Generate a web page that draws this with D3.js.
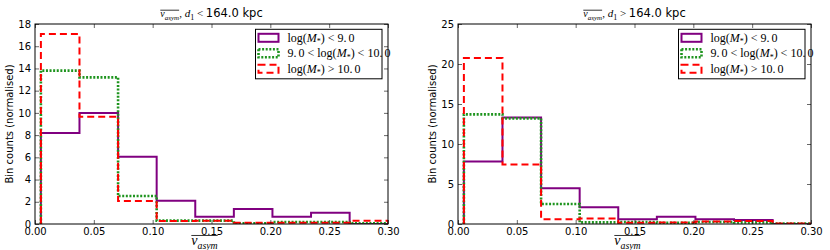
<!DOCTYPE html>
<html><head><meta charset="utf-8">
<script src="https://cdn.jsdelivr.net/npm/d3@7"></script>
<style>
body{margin:0;background:#fff;}
</style></head>
<body><svg id="c" width="830" height="250" font-family="DejaVu Sans, sans-serif"></svg>
<script>
// Bin edges (v_asym)
const binEdges = [0.005, 0.0378, 0.0706, 0.1034, 0.1362, 0.169, 0.2018, 0.2346, 0.2674, 0.3002];
const seriesNames = ["low", "mid", "high"];
// Left panel: d1 < 164.0 kpc
const leftLow  = [8.2, 10.0, 6.06, 2.1, 0.66, 1.35, 0.66, 1.02, 0.0];
const leftMid  = [13.8, 13.2, 2.52, 0.3, 0.3, 0.06, 0.18, 0.18, 0.06];
const leftHigh = [17.1, 9.66, 2.07, 0.27, 0.3, 0.12, 0.12, 0.12, 0.3];
// Right panel: d1 > 164.0 kpc
const rightLow  = [7.8, 13.3, 4.46, 2.1, 0.58, 0.92, 0.58, 0.5, 0.0];
const rightMid  = [13.7, 13.2, 2.5, 0.2, 0.25, 0.15, 0.25, 0.2, 0.05];
const rightHigh = [20.75, 7.45, 0.58, 0.7, 0.15, 0.2, 0.3, 0.37, 0.05];
// Axis ticks
const xTicks = [0.00, 0.05, 0.10, 0.15, 0.20, 0.25, 0.30];
const leftYTicks = [0, 2, 4, 6, 8, 10, 12, 14, 16, 18];
const rightYTicks = [0, 5, 10, 15, 20, 25];
const legendLabels = [["9.0", "<"], ["10.0", "mid"], ["10.0", ">"]];

const styles = {
  low:  {color: "#800080", width: 2, dash: null},
  mid:  {color: "#1e941e", width: 2.6, dash: "2,1.6"},
  high: {color: "#ff0000", width: 2, dash: "7,4"}
};

const svg = d3.select("#c");
const serif = "Liberation Serif, DejaVu Serif, serif";
const sans = "DejaVu Sans, sans-serif";

function vasym(g, x, y, size, anchor) {
  const t = g.append("text").attr("x", x).attr("y", y)
    .attr("font-family", serif).attr("font-style", "italic")
    .attr("font-size", size).attr("text-anchor", anchor || "start");
  t.append("tspan").text("v");
  t.append("tspan").attr("font-size", size * 0.7).attr("dy", size * 0.25).text("asym");
  const bb = t.node().getBBox();
  g.append("line").attr("x1", bb.x).attr("x2", bb.x + bb.width)
    .attr("y1", y - size * 0.68).attr("y2", y - size * 0.68)
    .attr("stroke", "#000").attr("stroke-width", 0.8);
  return bb;
}

function panel(opt) {
  const x = d3.scaleLinear().domain([0, 0.3]).range([opt.x0, opt.x1]);
  const y = d3.scaleLinear().domain([0, opt.ymax]).range([224, 24]);
  const g = svg.append("g");
  const clipId = "clip" + opt.id;
  svg.append("clipPath").attr("id", clipId).append("rect")
    .attr("x", opt.x0).attr("y", 24).attr("width", opt.x1 - opt.x0).attr("height", 200);

  const data = {low: opt.low, mid: opt.mid, high: opt.high};
  seriesNames.forEach(name => {
    const vals = data[name];
    const pts = [[binEdges[0], 0]];
    vals.forEach((v, i) => { pts.push([binEdges[i], v]); pts.push([binEdges[i + 1], v]); });
    pts.push([binEdges[binEdges.length - 1], 0]);
    const line = d3.line().x(d => x(d[0])).y(d => y(d[1]));
    const s = styles[name];
    g.append("path").attr("d", line(pts)).attr("fill", "none")
      .attr("stroke", s.color).attr("stroke-width", s.width)
      .attr("stroke-dasharray", s.dash).attr("clip-path", `url(#${clipId})`);
  });

  const ax = g.append("g").attr("transform", "translate(0,224)")
    .call(d3.axisBottom(x).tickValues(xTicks).tickFormat(d3.format(".2f")).tickSizeInner(-4).tickSizeOuter(0).tickPadding(4));
  const axT = g.append("g").attr("transform", "translate(0,24)")
    .call(d3.axisTop(x).tickValues(xTicks).tickFormat("").tickSizeInner(-4).tickSizeOuter(0));
  const ay = g.append("g").attr("transform", `translate(${opt.x0},0)`)
    .call(d3.axisLeft(y).tickValues(opt.yTicks).tickSizeInner(-4).tickSizeOuter(0).tickPadding(4));
  const ayR = g.append("g").attr("transform", `translate(${opt.x1},0)`)
    .call(d3.axisRight(y).tickValues(opt.yTicks).tickFormat("").tickSizeInner(-4).tickSizeOuter(0));
  [ax, axT, ay, ayR].forEach(a => {
    a.select(".domain").remove();
    a.attr("font-family", sans).attr("font-size", 10);
    a.selectAll("text").attr("fill", "#000");
    a.selectAll("line").attr("stroke", "#000").attr("stroke-width", 0.6);
  });
  g.append("rect").attr("x", opt.x0).attr("y", 24).attr("width", opt.x1 - opt.x0).attr("height", 200)
    .attr("fill", "none").attr("stroke", "#000").attr("stroke-width", 1);

  g.append("text").attr("transform", `translate(${opt.x0 - 22},124) rotate(-90)`)
    .attr("text-anchor", "middle").attr("font-family", sans).attr("font-size", 10).text("Bin counts (normalised)");

  vasym(g, (opt.x0 + opt.x1) / 2 - 7, 245, 14, "middle");

  // title
  const cx = (opt.x0 + opt.x1) / 2;
  const tg = g.append("g");
  const vb = vasym(tg, 0, 17, 10, "start");
  const t2 = tg.append("text").attr("x", vb.x + vb.width).attr("y", 17).attr("font-size", 11);
  t2.append("tspan").attr("font-family", serif).text(", ");
  t2.append("tspan").attr("font-family", serif).attr("font-style", "italic").text("d");
  t2.append("tspan").attr("font-family", serif).attr("font-size", 8).attr("dy", 2.5).text("1");
  t2.append("tspan").attr("font-family", serif).attr("dy", -2.5).text(opt.cmp === "<" ? " < " : " > ");
  t2.append("tspan").attr("font-family", sans).attr("font-size", 11.5).text("164.0 kpc");
  const tb = tg.node().getBBox();
  tg.attr("transform", `translate(${cx - tb.width / 2 - tb.x},0)`);

  // legend
  const lx = opt.x1 - 132.5, ly = 29.3;
  const lg = g.append("g");
  lg.append("rect").attr("x", lx).attr("y", ly).attr("width", 126.5).attr("height", 49.5)
    .attr("fill", "#fff").attr("stroke", "#000").attr("stroke-width", 1);
  seriesNames.forEach((name, i) => {
    const cy = ly + 8.5 + i * 15.5;
    const s = styles[name];
    lg.append("rect").attr("x", lx + 3).attr("y", cy - 4).attr("width", 20).attr("height", 8)
      .attr("fill", "none").attr("stroke", s.color).attr("stroke-width", s.width)
      .attr("stroke-dasharray", s.dash);
    const t = lg.append("text").attr("x", lx + 32).attr("y", cy + 4).attr("font-family", serif).attr("font-size", 12);
    const lab = legendLabels[i];
    if (lab[1] === "mid") {
      t.append("tspan").text("9.");
      t.append("tspan").attr("dx", 2).text("0 < ");
    }
    t.append("tspan").text("log(");
    t.append("tspan").attr("font-style", "italic").text("M");
    t.append("tspan").attr("font-size", 8).attr("dy", 2.5).text("*");
    t.append("tspan").attr("dy", -2.5).text(") " + (lab[1] === ">" ? ">" : "<") + " ");
    const parts = lab[0].split(".");
    t.append("tspan").text(parts[0] + ".");
    t.append("tspan").attr("dx", 2).text(parts[1]);
  });
}

panel({id: "L", x0: 35, x1: 388, ymax: 18, yTicks: leftYTicks, low: leftLow, mid: leftMid, high: leftHigh, cmp: "<"});
panel({id: "R", x0: 458, x1: 811, ymax: 25, yTicks: rightYTicks, low: rightLow, mid: rightMid, high: rightHigh, cmp: ">"});
</script></body></html>
